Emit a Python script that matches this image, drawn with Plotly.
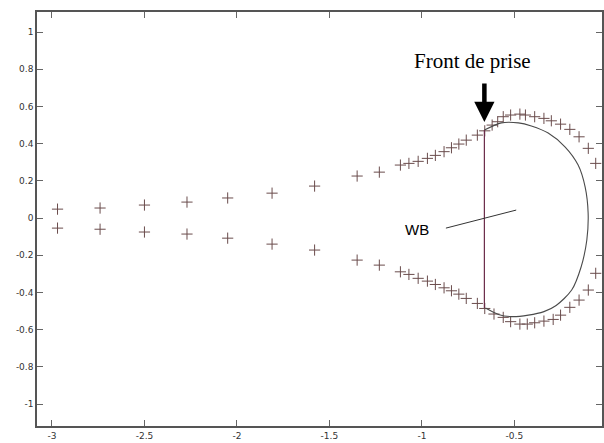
import plotly.graph_objects as go

# ---- data ----
upper_x = [-2.97, -2.74, -2.50, -2.27, -2.05, -1.81, -1.58, -1.35, -1.23,
           -1.116, -1.07, -1.02, -0.97, -0.927, -0.88, -0.84, -0.80, -0.76,
           -0.70, -0.66, -0.62, -0.59, -0.56, -0.52, -0.47, -0.44, -0.39,
           -0.34, -0.30, -0.25, -0.20, -0.15, -0.10, -0.06]
upper_y = [0.048, 0.054, 0.070, 0.086, 0.108, 0.134, 0.172, 0.226, 0.247,
           0.285, 0.294, 0.305, 0.321, 0.337, 0.357, 0.378, 0.398, 0.419,
           0.446, 0.469, 0.500, 0.518, 0.545, 0.554, 0.559, 0.554, 0.545,
           0.536, 0.523, 0.505, 0.477, 0.437, 0.375, 0.294]
lower_x = [-2.97, -2.74, -2.50, -2.27, -2.05, -1.81, -1.58, -1.35, -1.23,
           -1.116, -1.07, -1.02, -0.97, -0.927, -0.88, -0.84, -0.80, -0.76,
           -0.70, -0.66, -0.61, -0.56, -0.52, -0.47, -0.43, -0.39,
           -0.34, -0.29, -0.25, -0.20, -0.15, -0.10, -0.06]
lower_y = [-0.054, -0.060, -0.075, -0.086, -0.108, -0.140, -0.172, -0.226, -0.253,
           -0.289, -0.303, -0.324, -0.339, -0.357, -0.375, -0.391, -0.409, -0.432,
           -0.459, -0.486, -0.516, -0.534, -0.557, -0.570, -0.570, -0.563,
           -0.554, -0.545, -0.522, -0.480, -0.441, -0.387, -0.297]

wb_x = [-0.662, -0.57, -0.478, -0.408, -0.317, -0.225, -0.155, -0.117, -0.101,
        -0.108, -0.139, -0.190, -0.274, -0.340, -0.424, -0.516, -0.586, -0.656]
wb_y = [0.473, 0.512, 0.512, 0.495, 0.457, 0.382, 0.285, 0.167, 0.027,
        -0.118, -0.263, -0.387, -0.470, -0.503, -0.522, -0.530, -0.518, -0.484]

front_x = [-0.662, -0.662]
front_y = [0.473, -0.484]

pointer_x = [-0.87, -0.49]
pointer_y = [-0.054, 0.043]

x_ticks = [-3, -2.5, -2, -1.5, -1, -0.5]
x_tick_labels = ["-3", "-2.5", "-2", "-1.5", "-1", "-0.5"]
y_ticks = [-1, -0.8, -0.6, -0.4, -0.2, 0, 0.2, 0.4, 0.6, 0.8, 1]
y_tick_labels = ["-1", "-0.8", "-0.6", "-0.4", "-0.2", "0", "0.2", "0.4", "0.6", "0.8", "1"]

marker_color = "#6a4c4c"

fig = go.Figure()
for xs, ys in ((upper_x, upper_y), (lower_x, lower_y)):
    fig.add_trace(go.Scatter(x=xs, y=ys, mode="markers",
                             marker=dict(symbol="cross-thin-open", size=8,
                                         color=marker_color,
                                         line=dict(color=marker_color, width=1)),
                             showlegend=False, hoverinfo="skip"))
fig.add_trace(go.Scatter(x=wb_x, y=wb_y, mode="lines",
                         line=dict(color="#4a4a4a", width=1.1, shape="spline",
                                   smoothing=0.8),
                         showlegend=False, hoverinfo="skip"))
fig.add_trace(go.Scatter(x=front_x, y=front_y, mode="lines",
                         line=dict(color="#6a2a48", width=1.2),
                         showlegend=False, hoverinfo="skip"))
fig.add_trace(go.Scatter(x=pointer_x, y=pointer_y, mode="lines",
                         line=dict(color="#333333", width=1),
                         showlegend=False, hoverinfo="skip"))

fig.add_annotation(x=-0.662, y=0.516, xref="x", yref="y", text="",
                   showarrow=True, arrowhead=2, arrowsize=0.9, arrowwidth=4.5,
                   arrowcolor="black", ax=0, ay=-40)
fig.add_annotation(x=-0.726, y=0.844, xref="x", yref="y", text="Front de prise",
                   showarrow=False,
                   font=dict(family="Liberation Serif, Times New Roman, serif",
                             size=21, color="black"))
fig.add_annotation(x=-1.028, y=-0.059, xref="x", yref="y", text="WB",
                   showarrow=False,
                   font=dict(family="Liberation Sans, Arial, sans-serif",
                             size=15, color="black"))

axis_common = dict(showgrid=False, zeroline=False, showline=True,
                   linecolor="#555555", linewidth=1.5, mirror="ticks",
                   ticks="inside", ticklen=6, tickcolor="#666666", tickwidth=1,
                   tickfont=dict(family="DejaVu Sans, Arial, sans-serif",
                                 size=9, color="#333333"))

fig.update_xaxes(range=[-3.081, -0.026], tickvals=x_ticks, ticktext=x_tick_labels,
                 **axis_common)
fig.update_yaxes(range=[-1.118, 1.108], tickvals=y_ticks, ticktext=y_tick_labels,
                 **axis_common)

fig.update_layout(width=604, height=443,
                  margin=dict(l=37, r=0, t=12, b=17),
                  paper_bgcolor="white", plot_bgcolor="white")

fig.write_html("out.html", config={"displayModeBar": False},
               post_script="document.body.style.margin='0px';"
                           "document.body.style.overflow='hidden';")
